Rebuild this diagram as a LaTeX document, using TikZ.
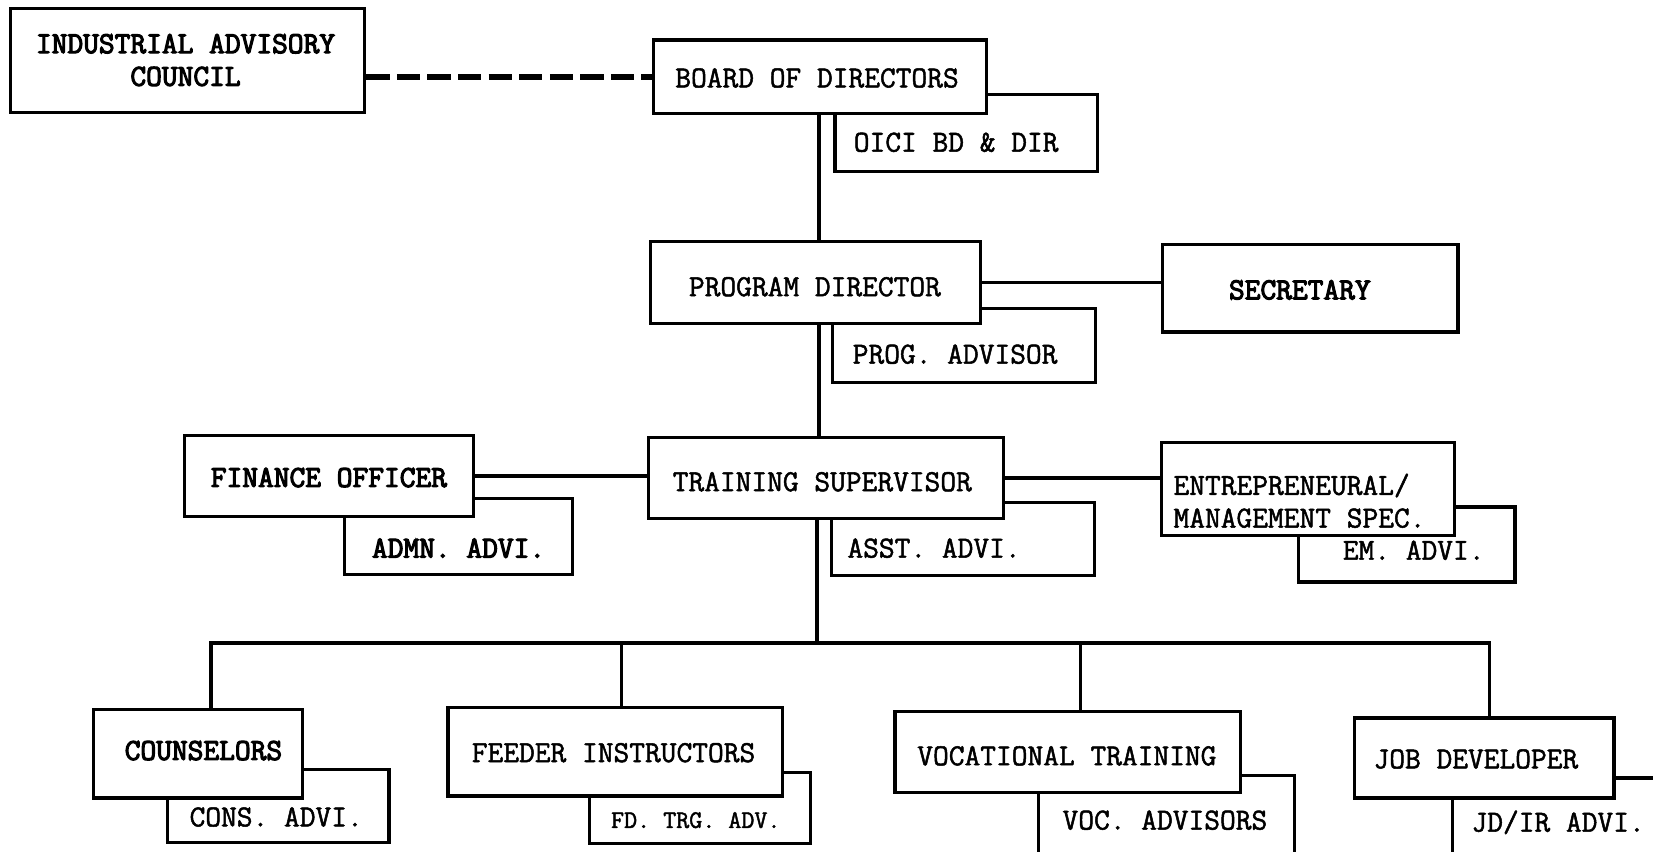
\documentclass[tikz,border=0pt]{standalone}
\usepackage{fontspec}
\newfontfamily\twfont{Latin Modern Mono}[FakeBold=1.6]
\newfontfamily\twbold{Latin Modern Mono}[FakeBold=3.6]
\begin{document}
\begin{tikzpicture}[x=1pt,y=-1pt,
  box/.style={draw, rectangle, line width=3pt, fill=white, inner sep=0pt, line join=miter},
  lbl/.style={font=\twfont\fontsize{29}{31}\selectfont, inner sep=0pt},
  slbl/.style={font=\twfont\fontsize{24}{28}\selectfont, inner sep=0pt},
  blbl/.style={font=\twbold\fontsize{29}{31}\selectfont, inner sep=0pt},
  conn/.style={line width=3.5pt, line join=miter},
  dotconn/.style={line width=5pt, dash pattern=on 22pt off 7pt}]
\useasboundingbox (0,0) rectangle (1568,808);
\clip (0,0) rectangle (1568,808);

% advisor boxes sit behind the main posts
\node[box, minimum width=249pt, minimum height=73pt] (oici) at (916.5,126.5) {};
\node[box, minimum width=249pt, minimum height=70pt] (progadv) at (914.5,328) {};
\node[box, minimum width=249pt, minimum height=69pt] (asst) at (913.5,511.5) {};
\node[box, minimum width=216pt, minimum height=72pt] (admn) at (435,509) {};
\node[box, minimum width=205pt, minimum height=71pt] (em) at (1334.5,516.5) {};
\node[box, minimum width=210pt, minimum height=69pt] (cons) at (264,764.5) {};
\node[box, minimum width=210pt, minimum height=67pt] (fd) at (664,766.5) {};
\node[box, minimum width=243pt, minimum height=79pt] (vocadv) at (1106.5,775.5) {};
\node[box, minimum width=212pt, minimum height=82pt] (jdir) at (1484,779) {};

\node[lbl] (oicit) at (907,135) {OICI BD \& DIR};
\node[lbl] (progadvt) at (906,336) {PROG. ADVISOR};
\node[lbl] (asstt) at (886,520) {ASST. ADVI.};
\node[blbl] (admnt) at (435,520) {ADMN. ADVI.};
\node[lbl] (emt) at (1341,522) {EM. ADVI.};
\node[lbl] (const) at (262,775) {CONS. ADVI.};
\node[slbl] (fdt) at (660,778) {FD. TRG. ADV.};
\node[lbl] (vocadvt) at (1105,778) {VOC. ADVISORS};
\node[lbl] (jdirt) at (1478,780) {JD/IR ADVI.};

% main posts
\node[box, minimum width=336pt, minimum height=99pt] (iac) at (178,57.5) {};
\node[blbl, align=center] (iact) at (176,57) {INDUSTRIAL ADVISORY\\COUNCIL};
\node[box, minimum width=316pt, minimum height=70pt] (board) at (778,73) {};
\node[lbl] (boardt) at (775,74) {BOARD OF DIRECTORS};
\node[box, minimum width=313pt, minimum height=78pt] (pd) at (773.5,268) {};
\node[lbl] (pdt) at (773,272) {PROGRAM DIRECTOR};
\node[box, minimum width=280pt, minimum height=83pt] (sec) at (1243,273.5) {};
\node[blbl] (sect) at (1233,275) {SECRETARY};
\node[box, minimum width=337pt, minimum height=77pt] (ts) at (783.5,453.5) {};
\node[lbl] (tst) at (780,457) {TRAINING SUPERVISOR};
\node[box, minimum width=274pt, minimum height=77pt] (fo) at (312,451.5) {};
\node[blbl] (fot) at (312,453) {FINANCE OFFICER};
\node[box, minimum width=278pt, minimum height=88pt] (ent) at (1241,464) {};
\node[lbl, align=left, anchor=west] (entt) at (1113,475) {ENTREPRENEURAL/\\MANAGEMENT SPEC.};
\node[box, minimum width=198pt, minimum height=84pt] (couns) at (188,715) {};
\node[blbl] (counst) at (193,712) {COUNSELORS};
\node[box, minimum width=317pt, minimum height=84pt] (feeder) at (583.5,713) {};
\node[lbl] (feedert) at (582,714) {FEEDER INSTRUCTORS};
\node[box, minimum width=328pt, minimum height=77pt] (voc) at (1013,713.5) {};
\node[lbl] (voct) at (1012,717) {VOCATIONAL TRAINING};
\node[box, minimum width=246pt, minimum height=76pt] (job) at (1408,719) {};
\node[lbl] (jobt) at (1400,720) {JOB DEVELOPER};

% lines of authority
\coordinate (trunk) at (777,0);
\coordinate (bus) at (775,610);
\draw[dotconn] (board.west -| iac.east) -- (board.west);
\draw[conn] (trunk |- board.south) -- (trunk |- pd.north);
\draw[conn] (trunk |- pd.south) -- (trunk |- ts.north);
\draw[conn] (pd.east) -- (pd.east -| sec.west);
\draw[conn] (fo.east) -- (fo.east -| ts.west);
\draw[conn] (ts.east) -- (ts.east -| ent.west);
\draw[conn] (bus |- ts.south) -- (bus);
\draw[conn] ([xshift=12pt]couns.north) |- ([xshift=5pt]job.north |- bus) -- ([xshift=5pt]job.north);
\draw[conn] ([xshift=6pt]feeder.north) -- ([xshift=6pt]feeder.north |- bus);
\draw[conn] ([xshift=12pt]voc.north) -- ([xshift=12pt]voc.north |- bus);
\end{tikzpicture}
\end{document}
